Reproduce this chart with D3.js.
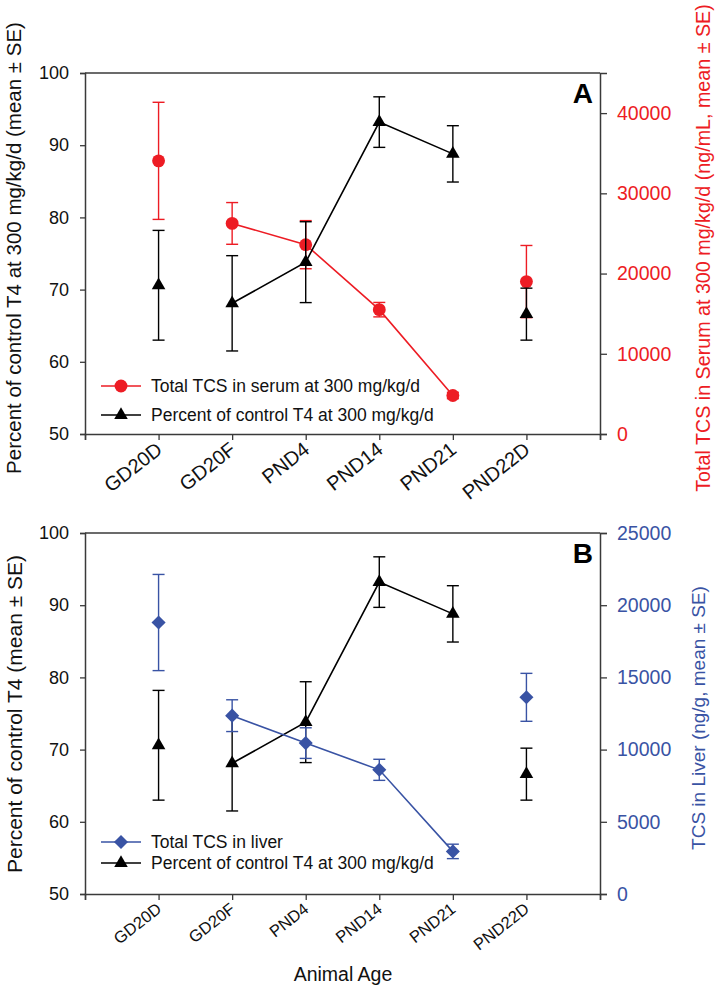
<!DOCTYPE html>
<html><head><meta charset="utf-8">
<script src="https://cdn.jsdelivr.net/npm/d3@7"></script>
<style>
body{margin:0;background:#fff;}
svg text{font-family:Arial,"Liberation Sans",sans-serif;}
</style></head>
<body><svg id="c" width="715" height="986"></svg>
<script>
const categories = ["GD20D","GD20F","PND4","PND14","PND21","PND22D"];
const connected = [false,true,true,true,true,false];
const t4Mean = [70.6, 68.1, 73.8, 93.2, 88.8, 66.6];
const t4SE   = [7.6, 6.6, 5.6, 3.5, 3.9, 3.6];
const serumMean = [34050, 26250, 23600, 15500, 4800, 19000];
const serumSE   = [7300, 2600, 3000, 900, 400, 4500];
const liverMean = [18800, 12350, 10450, 8600, 2950, 13620];
const liverSE   = [3330, 1100, 1060, 730, 500, 1660];
const leftTicks = [50,60,70,80,90,100];
const serumTicks = [0,10000,20000,30000,40000];
const liverTicks = [0,5000,10000,15000,20000,25000];

const RED="#ed1c24", BLUE="#3953a4", BLK="#000", AX="#3a3a3a";
const svg=d3.select("#c");
const x=d3.scaleLinear().domain([0,7]).range([85,600]);
const diamond={draw(ctx,size){const r=Math.sqrt(size)/2*1.15;ctx.moveTo(0,-r);ctx.lineTo(r,0);ctx.lineTo(0,r);ctx.lineTo(-r,0);ctx.closePath();}};

function panel(cfg){
  const g=svg.append("g");
  const yL=d3.scaleLinear().domain([50,100]).range([cfg.bottom,cfg.top]);
  const yR=d3.scaleLinear().domain(cfg.rDomain).range([cfg.bottom,cfg.top]);
  g.append("line").attr("x1",85).attr("x2",600).attr("y1",cfg.top).attr("y2",cfg.top).attr("stroke",AX).attr("stroke-width",1.5);
  const la=g.append("g").attr("transform","translate(85,0)").call(d3.axisLeft(yL).tickValues(leftTicks).tickSize(5).tickPadding(11));
  la.select(".domain").attr("stroke",AX).attr("stroke-width",1.5);
  la.selectAll(".tick line").attr("stroke",AX).attr("stroke-width",1.3);
  la.selectAll("text").attr("font-size",18).attr("fill","#111");
  const ra=g.append("g").attr("transform","translate(600,0)").call(d3.axisRight(yR).tickValues(cfg.rTicks).tickSize(7).tickPadding(10).tickFormat(d3.format("d")));
  ra.select(".domain").attr("stroke",AX).attr("stroke-width",1.5);
  ra.selectAll(".tick line").attr("stroke",AX).attr("stroke-width",1.3);
  ra.selectAll("text").attr("font-size",cfg.rFont).attr("fill",cfg.color);
  const ba=g.append("g").attr("transform",`translate(0,${cfg.bottom})`).call(d3.axisBottom(x).tickValues(d3.range(0,8)).tickSize(6).tickFormat(""));
  ba.select(".domain").attr("stroke",AX).attr("stroke-width",1.5);
  ba.selectAll(".tick line").attr("stroke",AX).attr("stroke-width",1.3);
  g.selectAll(".xl").data(categories).enter().append("text")
    .attr("transform",(d,i)=>`translate(${x(i+1)+cfg.xlDx},${cfg.bottom+cfg.xlDy}) rotate(-38)`)
    .attr("text-anchor","end").attr("font-size",cfg.xlFont).attr("fill","#111").text(d=>d);
  g.append("text").attr("transform",`translate(${cfg.ltX},${cfg.ltY}) rotate(-90)`)
    .attr("text-anchor","middle").attr("dominant-baseline","central").attr("font-size",cfg.ltFont).attr("fill","#111").text(cfg.leftTitle);
  g.append("text").attr("transform",`translate(${cfg.rtX},${cfg.rtY}) rotate(-90)`)
    .attr("text-anchor","middle").attr("dominant-baseline","central").attr("font-size",cfg.rtFont).attr("fill",cfg.color).text(cfg.rightTitle);
  g.append("text").attr("x",593).attr("y",cfg.top+30).attr("text-anchor","end").attr("font-size",28).attr("font-weight","bold").text(cfg.letter);

  function series(mean,se,scale,color,shape,size){
    const s=g.append("g");
    const idx=d3.range(mean.length);
    const li=idx.filter(i=>connected[i]);
    s.append("path").attr("d",d3.line().x(i=>x(i+1)).y(i=>scale(mean[i]))(li))
      .attr("fill","none").attr("stroke",color).attr("stroke-width",1.6);
    idx.forEach(i=>{
      const cx=x(i+1), yt=scale(mean[i]+se[i]), yb=scale(mean[i]-se[i]);
      s.append("line").attr("x1",cx).attr("x2",cx).attr("y1",yt).attr("y2",yb).attr("stroke",color).attr("stroke-width",1.4);
      [yt,yb].forEach(yy=>s.append("line").attr("x1",cx-6).attr("x2",cx+6).attr("y1",yy).attr("y2",yy).attr("stroke",color).attr("stroke-width",1.4));
    });
    s.selectAll(".m").data(idx).enter().append("path")
      .attr("d",d3.symbol().type(shape).size(size))
      .attr("transform",i=>`translate(${x(i+1)},${scale(mean[i])})`).attr("fill",color);
  }
  function legendRow(y,color,shape,size,label){
    g.append("line").attr("x1",101).attr("x2",141).attr("y1",y).attr("y2",y).attr("stroke",color).attr("stroke-width",1.6);
    g.append("path").attr("d",d3.symbol().type(shape).size(size)).attr("transform",`translate(121,${y})`).attr("fill",color);
    g.append("text").attr("x",151).attr("y",y).attr("dominant-baseline","central").attr("font-size",17.5).attr("fill","#111").text(label);
  }
  if(cfg.letter==="A"){
    series(serumMean,serumSE,yR,RED,d3.symbolCircle,130);
    series(t4Mean,t4SE,yL,BLK,d3.symbolTriangle,80);
    legendRow(cfg.legY,RED,d3.symbolCircle,130,"Total TCS in serum at 300 mg/kg/d");
    legendRow(cfg.legY+29,BLK,d3.symbolTriangle,80,"Percent of control T4 at 300 mg/kg/d");
  } else {
    series(t4Mean,t4SE,yL,BLK,d3.symbolTriangle,80);
    series(liverMean,liverSE,yR,BLUE,diamond,150);
    legendRow(cfg.legY,BLUE,diamond,150,"Total TCS in liver");
    legendRow(cfg.legY+21,BLK,d3.symbolTriangle,80,"Percent of control T4 at 300 mg/kg/d");
  }
}

panel({letter:"A",top:73,bottom:434,rDomain:[0,45000],rTicks:serumTicks,color:RED,rFont:19.5,
  leftTitle:"Percent of control T4 at 300 mg/kg/d (mean ± SE)",
  rightTitle:"Total TCS in Serum at 300 mg/kg/d (ng/mL, mean ± SE)",
  ltX:13,ltY:248,ltFont:20.5,rtX:703,rtY:248,rtFont:19.7,xlDx:5,xlDy:18,xlFont:20,legY:386});
panel({letter:"B",top:533,bottom:894,rDomain:[0,25000],rTicks:liverTicks,color:BLUE,rFont:19.5,
  leftTitle:"Percent of control T4 (mean ± SE)",
  rightTitle:"TCS in Liver (ng/g, mean ± SE)",
  ltX:14,ltY:714,ltFont:21,rtX:698,rtY:718,rtFont:19,xlDx:4,xlDy:17,xlFont:16.5,legY:842});
svg.append("text").attr("x",343).attr("y",981).attr("text-anchor","middle").attr("font-size",19.5).attr("fill","#111").text("Animal Age");
</script></body></html>
